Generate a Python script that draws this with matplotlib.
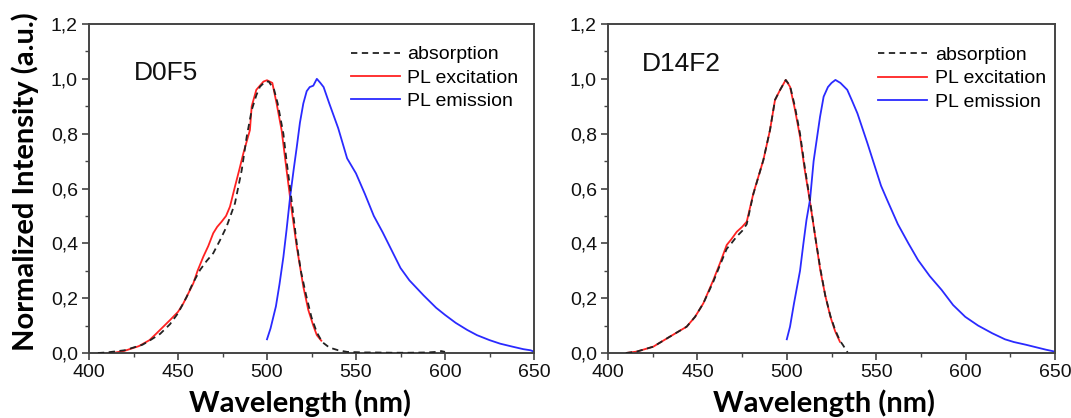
import matplotlib
matplotlib.use("Agg")
import matplotlib.pyplot as plt
from matplotlib.ticker import MultipleLocator, FuncFormatter

# ---------------- data: D0F5 ----------------
d0_abs_x = [405, 410, 420, 430, 434, 440, 445.5, 450, 454.9, 458, 462.4, 466, 469.8, 473.5, 477.3,
            482, 485.8, 488.6, 491.4, 494, 496, 499, 501, 504, 506, 509.2, 511, 513, 516.7,
            519, 522, 525, 528, 531, 535, 540, 545, 550, 555, 560, 570, 580, 590, 595, 598, 600]
d0_abs_y = [0.0, 0.002, 0.01, 0.03, 0.045, 0.07, 0.105, 0.145, 0.205, 0.25, 0.303, 0.335, 0.364, 0.41, 0.461,
            0.546, 0.667, 0.789, 0.886, 0.94, 0.971, 0.99, 0.99, 0.96, 0.91, 0.80, 0.70, 0.60, 0.40,
            0.30, 0.21, 0.13, 0.075, 0.04, 0.02, 0.01, 0.004, 0.003, 0.002, 0.002, 0.001, 0.001, 0.002, 0.004, 0.007, 0.004]

d0_exc_x = [410, 415, 420, 428, 434, 438, 445.5, 450, 453, 458.6, 461, 464.2, 467, 469.8, 472,
            474.5, 477, 479.2, 482, 484.5, 486.7, 490.4, 491.4, 494, 496, 498, 500, 501.5,
            503, 505.4, 508.2, 511, 513.9, 516.7, 520.4, 523.2, 526, 528, 530.5]
d0_exc_y = [0.0, 0.002, 0.008, 0.025, 0.047, 0.072, 0.12, 0.15, 0.181, 0.254, 0.30, 0.351, 0.39, 0.437, 0.46,
            0.479, 0.50, 0.534, 0.607, 0.67, 0.728, 0.813, 0.90, 0.96, 0.975, 0.99, 0.995, 0.99,
            0.985, 0.91, 0.813, 0.667, 0.52, 0.388, 0.242, 0.157, 0.10, 0.065, 0.045]

d0_em_x = [500, 502, 505, 507, 509.2, 511, 513, 515, 516.7, 518.5, 520.4, 522.3, 524, 526, 528,
           530, 531.8, 535, 540, 545, 550, 555, 560, 565, 570, 575, 580, 588, 595, 600,
           606, 612.5, 618, 625, 631, 638, 644, 648, 650]
d0_em_y = [0.05, 0.09, 0.17, 0.25, 0.35, 0.45, 0.57, 0.67, 0.75, 0.84, 0.91, 0.955, 0.97, 0.975, 1.0,
           0.985, 0.97, 0.91, 0.82, 0.71, 0.655, 0.58, 0.50, 0.44, 0.375, 0.31, 0.265, 0.21, 0.165, 0.139,
           0.11, 0.084, 0.065, 0.047, 0.034, 0.023, 0.014, 0.01, 0.005]

# ---------------- data: D14F2 ----------------
d14_abs_x = [410, 416, 425.3, 434.7, 444, 448.7, 453.3, 458.9, 462.6, 466.4, 469, 472, 475, 477.6,
             481.3, 486.9, 490.6, 493.4, 496.2, 499.4, 501.8, 504.5, 507.4, 510, 513.1, 516, 518.7,
             521.5, 524.4, 527, 529.7, 531.5, 533, 534]
d14_abs_y = [0.0, 0.005, 0.023, 0.06, 0.096, 0.132, 0.181, 0.26, 0.32, 0.38, 0.40, 0.425, 0.445, 0.47,
             0.58, 0.704, 0.813, 0.923, 0.959, 0.996, 0.975, 0.90, 0.80, 0.68, 0.55, 0.42, 0.31,
             0.21, 0.135, 0.085, 0.045, 0.028, 0.012, 0.002]

d14_exc_x = [410, 416, 425.3, 434.7, 444, 448.7, 453.3, 458.9, 462.6, 466.4, 469, 472, 475, 477.6,
             481.3, 486.9, 490.6, 493.4, 496.2, 499.4, 501.8, 504.5, 507.4, 510, 513.1, 516, 518.7,
             521.5, 524.4, 527, 529.7]
d14_exc_y = [0.0, 0.005, 0.023, 0.06, 0.096, 0.132, 0.181, 0.266, 0.327, 0.394, 0.415, 0.442, 0.46, 0.479,
             0.582, 0.704, 0.813, 0.923, 0.959, 0.996, 0.971, 0.89, 0.789, 0.67, 0.546, 0.42, 0.303,
             0.21, 0.132, 0.08, 0.041]

d14_em_x = [500, 501.8, 504, 507.4, 509.3, 511, 513, 515, 518.6, 520.6, 523, 525, 527.2, 530,
            533.8, 536.5, 539.5, 545.1, 552.7, 556, 562.1, 568, 573.4, 580, 586.6, 593, 599.8,
            607, 614.9, 622, 627, 633.8, 640, 645, 650]
d14_em_y = [0.05, 0.096, 0.18, 0.30, 0.40, 0.485, 0.56, 0.70, 0.862, 0.935, 0.97, 0.985, 0.996, 0.985,
            0.96, 0.92, 0.874, 0.765, 0.61, 0.56, 0.47, 0.40, 0.339, 0.28, 0.23, 0.175, 0.132,
            0.10, 0.072, 0.05, 0.04, 0.03, 0.02, 0.012, 0.005]

panels = [
    ("D0F5", d0_abs_x, d0_abs_y, d0_exc_x, d0_exc_y, d0_em_x, d0_em_y),
    ("D14F2", d14_abs_x, d14_abs_y, d14_exc_x, d14_exc_y, d14_em_x, d14_em_y),
]
label_pos = [(425, 1.02), (419, 1.055)]
legend_anchor = [(0.589, 0.934), (0.605, 0.932)]
xlabel_x = [0.474, 0.483]

x_ticks = [400, 450, 500, 550, 600, 650]
y_ticks = [0.0, 0.2, 0.4, 0.6, 0.8, 1.0, 1.2]

W, H = 1071, 418
fig = plt.figure(figsize=(W / 100, H / 100), dpi=100)

axes_rects = [
    (89 / W, (H - 353) / H, (534 - 89) / W, (353 - 24) / H),
    (608 / W, (H - 353) / H, (1055 - 608) / W, (353 - 24) / H),
]

spine_col = "#444444"
lab_font = "Lato"
tick_font = "Liberation Sans"

for i, (rect, p) in enumerate(zip(axes_rects, panels)):
    name, ax_x, ax_y, ex_x, ex_y, em_x, em_y = p
    ax = fig.add_axes(rect)
    ax.plot(ax_x, ax_y, color="#222222", lw=1.3, ls=(0, (3.5, 2.5)), label="absorption", zorder=3)
    ax.plot(ex_x, ex_y, color="#ff2222", lw=1.3, label="PL excitation", zorder=2)
    ax.plot(em_x, em_y, color="#2a2aff", lw=1.3, label="PL emission", zorder=2)

    ax.set_xlim(400, 650)
    ax.set_ylim(0, 1.2)
    ax.set_xticks(x_ticks)
    ax.set_yticks(y_ticks)
    ax.xaxis.set_minor_locator(MultipleLocator(25))
    ax.yaxis.set_minor_locator(MultipleLocator(0.1))
    ax.yaxis.set_major_formatter(FuncFormatter(lambda v, pos: f"{v:.1f}".replace(".", ",")))
    ax.tick_params(which="major", direction="out", length=5, width=1.2, color=spine_col,
                   labelsize=14, pad=3, top=False, right=False)
    ax.tick_params(which="minor", direction="out", length=3, width=1.0, color=spine_col,
                   top=False, right=False)
    for lab in ax.get_xticklabels() + ax.get_yticklabels():
        lab.set_fontfamily(tick_font)
        lab.set_color("#111111")
    for s in ax.spines.values():
        s.set_color(spine_col)
        s.set_linewidth(1.4)

    ax.text(label_pos[i][0], label_pos[i][1], name, fontsize=19, fontfamily=tick_font,
            va="center", ha="left", color="#111111")

    ax.legend(loc="upper left", bbox_to_anchor=legend_anchor[i], frameon=False,
              handlelength=2.5, handletextpad=0.4, labelspacing=0.3, borderaxespad=0.0,
              borderpad=0.0, prop={"family": tick_font, "size": 14})

    ax.set_xlabel("Wavelength (nm)", fontsize=21, fontweight="bold", fontfamily=lab_font)
    ax.xaxis.set_label_coords(xlabel_x[i], -0.11)
    if i == 0:
        ax.set_ylabel("Normalized Intensity (a.u.)", fontsize=21, fontweight="bold",
                      fontfamily=lab_font)
        ax.yaxis.set_label_coords(-0.112, 0.522)

fig.savefig("out.png", dpi=100)
